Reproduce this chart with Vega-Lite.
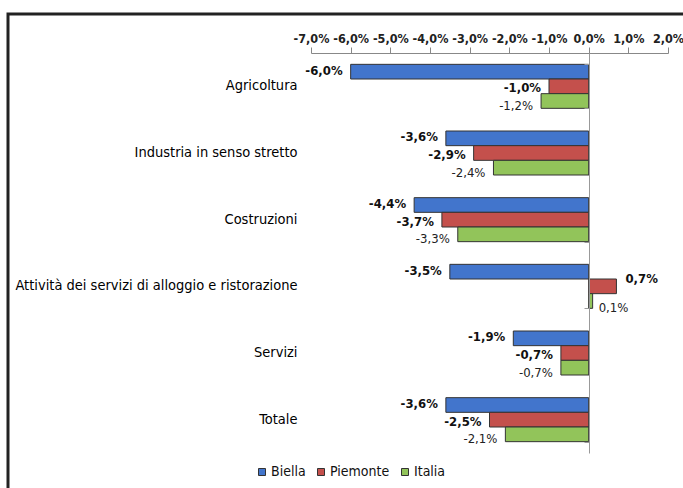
{
  "$schema": "https://vega.github.io/schema/vega-lite/v6.json",
  "width": 690,
  "height": 495,
  "autosize": {"type": "none"},
  "padding": {"left": 8, "top": 14, "right": 0, "bottom": 0},
  "background": "white",
  "config": {
    "view": {"stroke": "#222", "strokeWidth": 3, "fill": "white"},
    "font": "DejaVu Sans Condensed, DejaVu Sans",
    "axis": {"grid": false, "labelFont": "DejaVu Sans Condensed, DejaVu Sans"},
    "legend": {"labelFont": "DejaVu Sans Condensed, DejaVu Sans"}
  },
  "data": {
    "values": [
      {"cat": "Agricoltura", "s": "Biella", "v": -6.0, "lab": "-6,0%"},
      {"cat": "Agricoltura", "s": "Piemonte", "v": -1.0, "lab": "-1,0%"},
      {"cat": "Agricoltura", "s": "Italia", "v": -1.2, "lab": "-1,2%"},
      {"cat": "Industria in senso stretto", "s": "Biella", "v": -3.6, "lab": "-3,6%"},
      {"cat": "Industria in senso stretto", "s": "Piemonte", "v": -2.9, "lab": "-2,9%"},
      {"cat": "Industria in senso stretto", "s": "Italia", "v": -2.4, "lab": "-2,4%"},
      {"cat": "Costruzioni", "s": "Biella", "v": -4.4, "lab": "-4,4%"},
      {"cat": "Costruzioni", "s": "Piemonte", "v": -3.7, "lab": "-3,7%"},
      {"cat": "Costruzioni", "s": "Italia", "v": -3.3, "lab": "-3,3%"},
      {"cat": "Attività dei servizi di alloggio e ristorazione", "s": "Biella", "v": -3.5, "lab": "-3,5%"},
      {"cat": "Attività dei servizi di alloggio e ristorazione", "s": "Piemonte", "v": 0.7, "lab": "0,7%"},
      {"cat": "Attività dei servizi di alloggio e ristorazione", "s": "Italia", "v": 0.1, "lab": "0,1%"},
      {"cat": "Servizi", "s": "Biella", "v": -1.9, "lab": "-1,9%"},
      {"cat": "Servizi", "s": "Piemonte", "v": -0.7, "lab": "-0,7%"},
      {"cat": "Servizi", "s": "Italia", "v": -0.7, "lab": "-0,7%"},
      {"cat": "Totale", "s": "Biella", "v": -3.6, "lab": "-3,6%"},
      {"cat": "Totale", "s": "Piemonte", "v": -2.5, "lab": "-2,5%"},
      {"cat": "Totale", "s": "Italia", "v": -2.1, "lab": "-2,1%"}
    ]
  },
  "layer": [
    {
      "encoding": {
        "y": {
          "field": "cat", "type": "nominal",
          "sort": ["Agricoltura", "Industria in senso stretto", "Costruzioni", "Attività dei servizi di alloggio e ristorazione", "Servizi", "Totale"],
          "scale": {"range": [39, 439], "paddingInner": 0.34, "paddingOuter": 0.17}
        },
        "yOffset": {
          "field": "s", "type": "nominal", "sort": ["Biella", "Piemonte", "Italia"],
          "scale": {"paddingInner": 0, "paddingOuter": 0}
        },
        "x": {
          "field": "v", "type": "quantitative",
          "scale": {"domain": [-7, 2], "range": [303, 660], "nice": false, "zero": false}
        }
      },
      "layer": [
        {
          "mark": {"type": "bar", "stroke": "#333", "strokeWidth": 1},
          "encoding": {
            "y": {
              "field": "cat", "type": "nominal",
              "sort": ["Agricoltura", "Industria in senso stretto", "Costruzioni", "Attività dei servizi di alloggio e ristorazione", "Servizi", "Totale"],
              "axis": {"orient": "left", "offset": -289, "domain": false, "ticks": false, "tickSize": 0, "labelPadding": 0, "labelFontSize": 14.5, "labelColor": "#000", "labelLimit": 400, "title": null}
            },
            "x": {
              "field": "v", "type": "quantitative",
              "axis": {
                "orient": "top", "offset": -39, "values": [-7, -6, -5, -4, -3, -2, -1, 0, 1, 2],
                "labelExpr": "replace(replace(format(datum.value, '.1f'), '.', ','), '−', '-') + '%'",
                "labelOverlap": false, "labelFlush": false, "labelFontSize": 12.5, "labelFontWeight": "bold", "labelColor": "#222", "labelPadding": 2,
                "domainColor": "#888", "tickColor": "#888", "tickSize": 6, "title": null
              }
            },
            "color": {
              "field": "s", "type": "nominal",
              "scale": {"domain": ["Biella", "Piemonte", "Italia"], "range": ["#4275CC", "#C4504C", "#92C45A"]},
              "legend": {
                "orient": "none", "legendX": 247, "legendY": 451, "direction": "horizontal", "title": null,
                "symbolType": "square", "symbolSize": 49, "symbolStrokeColor": "#333", "symbolStrokeWidth": 1,
                "labelFontSize": 14, "labelColor": "#111", "labelOffset": 2, "columnPadding": 8, "padding": 0
              }
            }
          }
        },
        {
          "transform": [{"filter": "datum.s === 'Biella'"}],
          "mark": {"type": "text", "align": "right", "baseline": "middle", "dx": -8, "dy": -1, "fontSize": 13, "fontWeight": "bold", "fill": "#111"},
          "encoding": {"text": {"field": "lab"}}
        },
        {
          "transform": [{"filter": "datum.s === 'Piemonte' && datum.v < 0"}],
          "mark": {"type": "text", "align": "right", "baseline": "middle", "dx": -8, "dy": 2, "fontSize": 13, "fontWeight": "bold", "fill": "#111"},
          "encoding": {"text": {"field": "lab"}}
        },
        {
          "transform": [{"filter": "datum.s === 'Piemonte' && datum.v >= 0"}],
          "mark": {"type": "text", "align": "left", "baseline": "middle", "dx": 9, "dy": -7, "fontSize": 13, "fontWeight": "bold", "fill": "#111"},
          "encoding": {"text": {"field": "lab"}}
        },
        {
          "transform": [{"filter": "datum.s === 'Italia' && datum.v < 0"}],
          "mark": {"type": "text", "align": "right", "baseline": "middle", "dx": -8, "dy": 5, "fontSize": 13, "fill": "#222"},
          "encoding": {"text": {"field": "lab"}}
        },
        {
          "transform": [{"filter": "datum.s === 'Italia' && datum.v >= 0"}],
          "mark": {"type": "text", "align": "left", "baseline": "middle", "dx": 6, "dy": 7, "fontSize": 13, "fill": "#222"},
          "encoding": {"text": {"field": "lab"}}
        }
      ]
    },
    {
      "mark": {"type": "point", "opacity": 0},
      "encoding": {
        "y": {
          "field": "cat", "type": "nominal",
          "sort": ["Agricoltura", "Industria in senso stretto", "Costruzioni", "Attività dei servizi di alloggio e ristorazione", "Servizi", "Totale"],
          "scale": {"range": [39, 439], "paddingInner": 0.34, "paddingOuter": 0.17},
          "axis": {"orient": "left", "offset": -581, "labels": false, "domain": true, "ticks": true, "tickSize": 5, "tickBand": "extent", "domainColor": "#999", "tickColor": "#999", "title": null, "zindex": 2}
        },
        "x": {"field": "v", "type": "quantitative"}
      }
    }
  ],
  "resolve": {"scale": {"y": "independent"}, "axis": {"y": "independent"}}
}
